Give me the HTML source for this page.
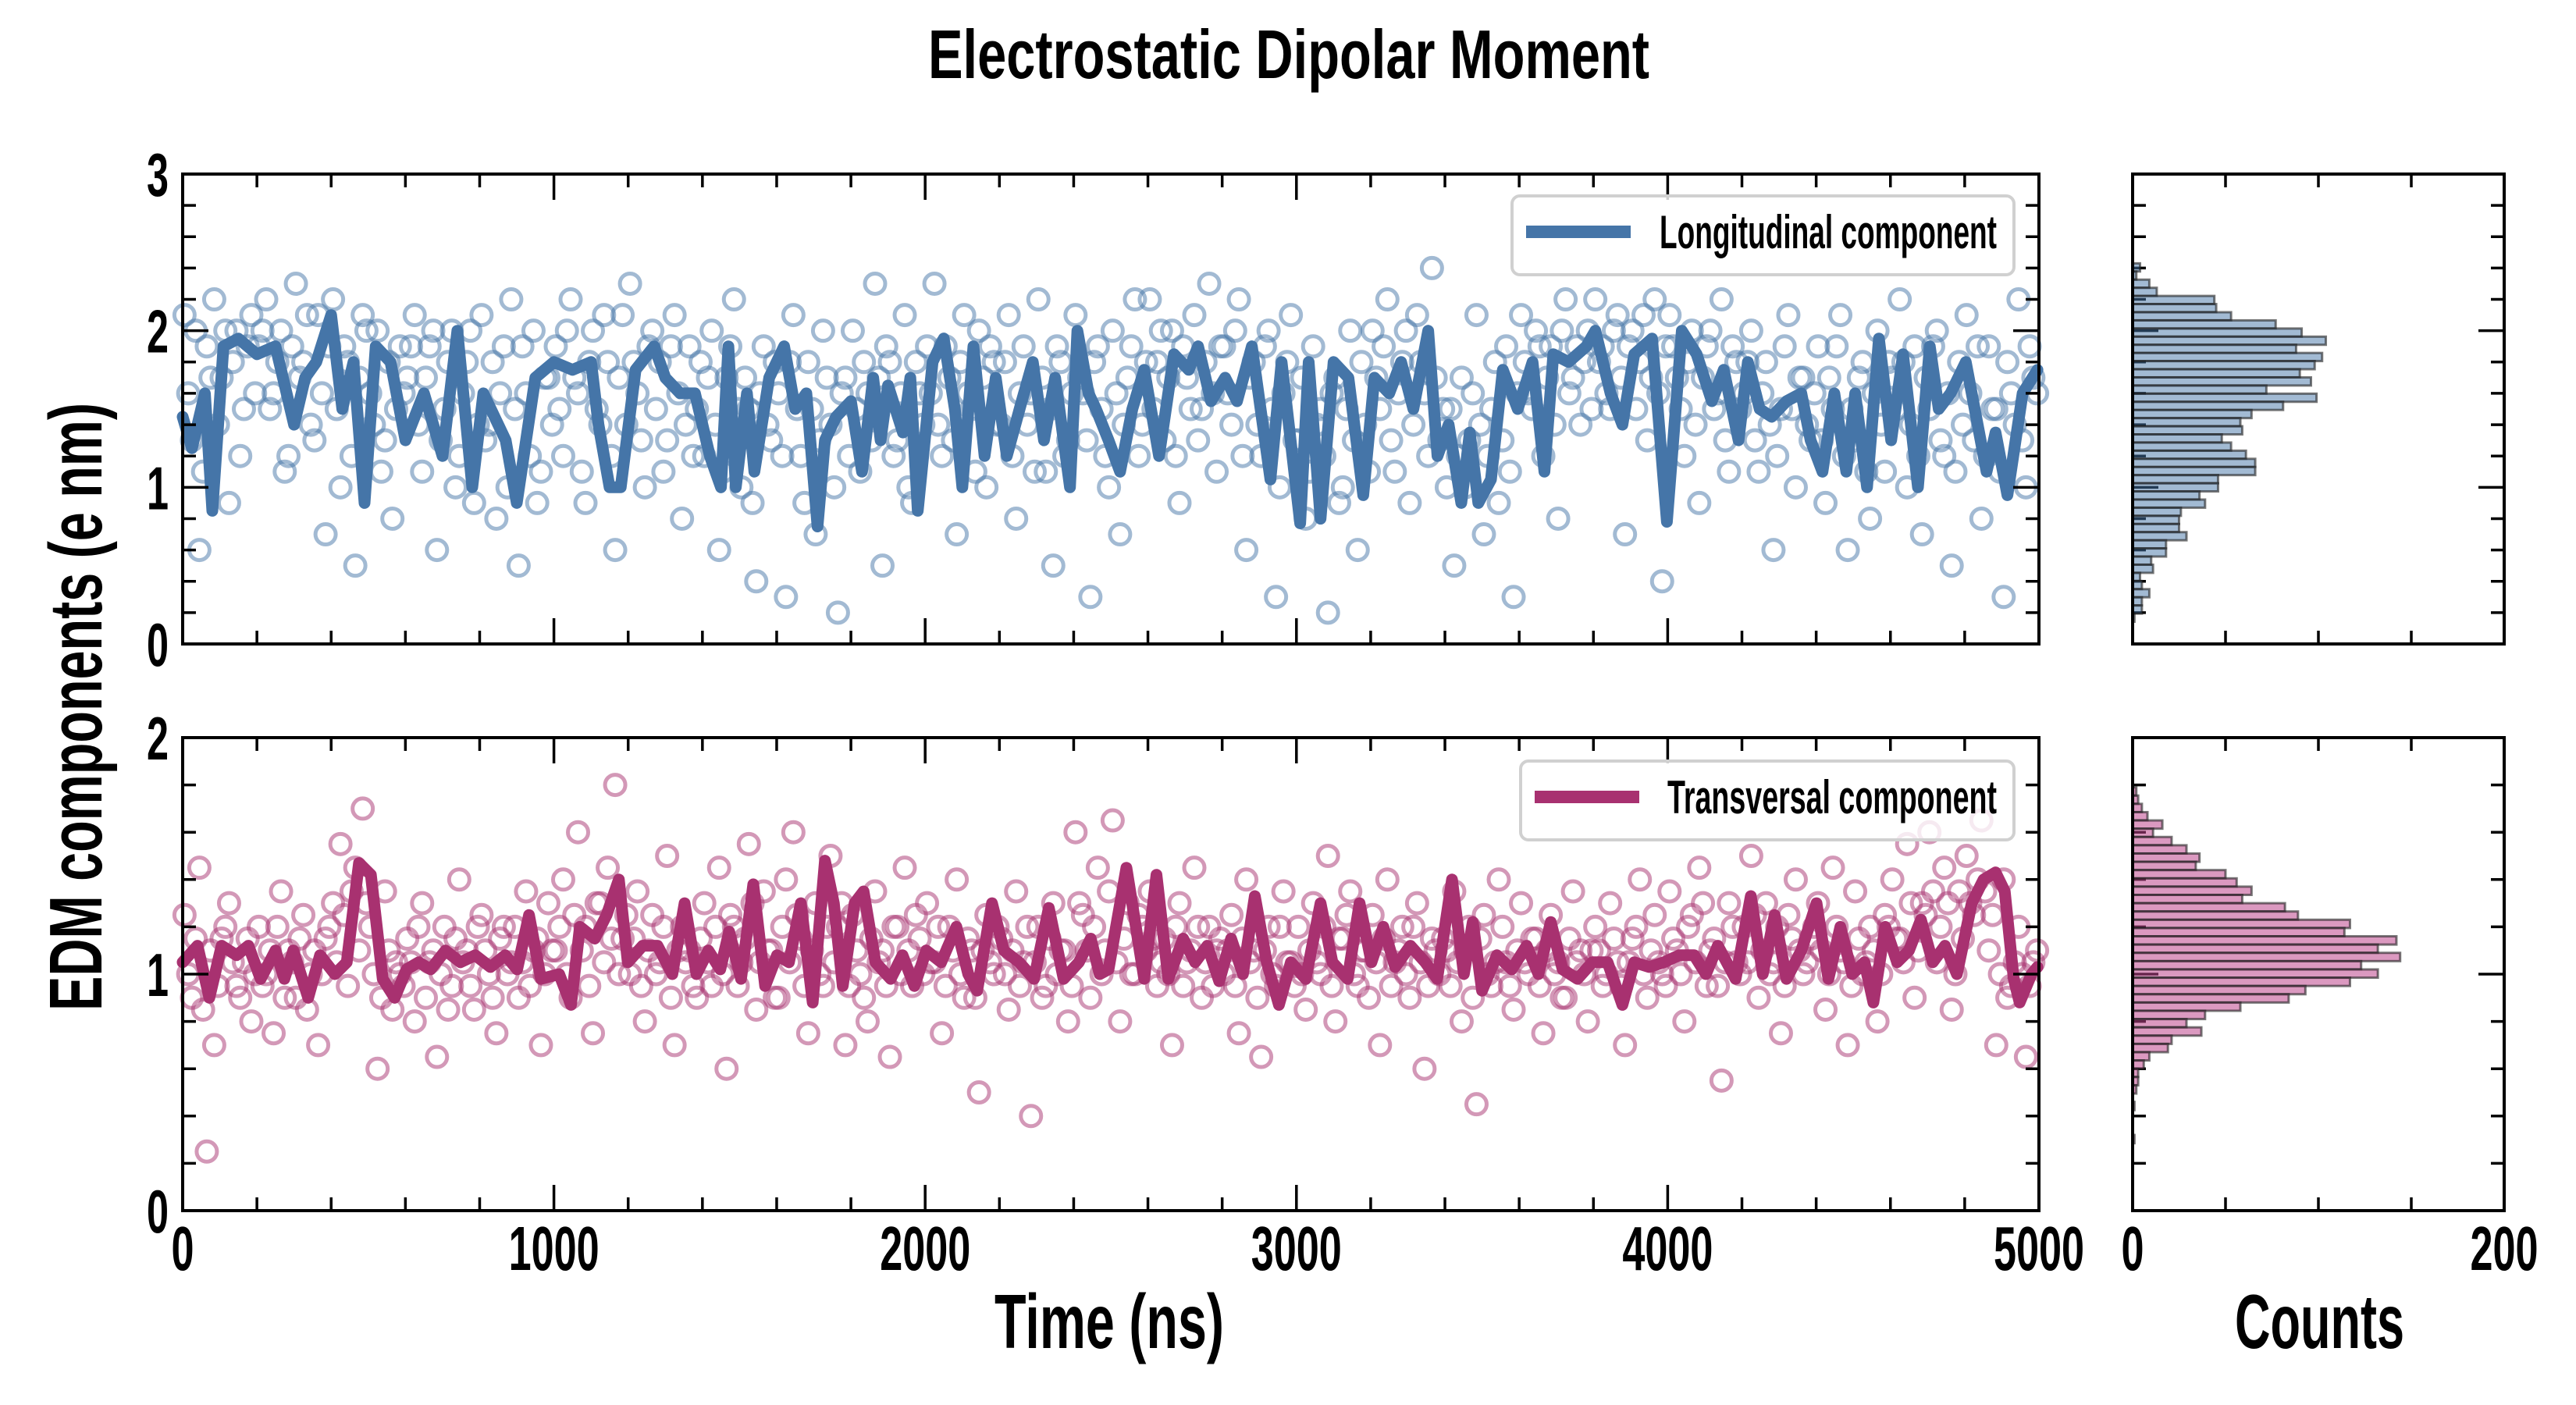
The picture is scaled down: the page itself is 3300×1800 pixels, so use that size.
<!DOCTYPE html>
<html><head><meta charset="utf-8"><style>
html,body{margin:0;padding:0;background:#fff;}
svg{display:block;}
text{font-family:"Liberation Sans",sans-serif;font-weight:bold;fill:#000;}
</style></head><body>
<svg id="chart" width="3300" height="1800" viewBox="0 0 3300 1800" xmlns="http://www.w3.org/2000/svg">
<rect width="3300" height="1800" fill="#fff"/>
<text x="1189" y="100" font-size="88" textLength="924" lengthAdjust="spacingAndGlyphs">Electrostatic Dipolar Moment</text>
<text transform="translate(130,1295) rotate(-90)" x="0" y="0" font-size="96" textLength="779" lengthAdjust="spacingAndGlyphs">EDM components (e nm)</text>
<text x="1274" y="1727" font-size="98" textLength="294" lengthAdjust="spacingAndGlyphs">Time (ns)</text>
<text x="2863" y="1727" font-size="98" textLength="217" lengthAdjust="spacingAndGlyphs">Counts</text>
<g id="layer"></g>
</svg>
<script>
// ---- data ----
const lonLineT = [0,25,60,80,110,150,200,250,300,330,360,400,430,460,490,520,560,600,650,700,740,780,810,870,900,950,1000,1050,1100,1120,1150,1180,1220,1270,1300,1340,1380,1420,1450,1470,1490,1520,1540,1580,1620,1650,1680,1710,1730,1760,1800,1830,1860,1880,1900,1940,1960,1980,2020,2050,2080,2100,2130,2160,2190,2220,2260,2290,2320,2350,2390,2410,2440,2460,2494,2525,2558,2590,2630,2670,2710,2735,2770,2808,2840,2880,2930,2960,3010,3033,3065,3100,3140,3180,3210,3250,3282,3315,3355,3380,3410,3444,3467,3490,3524,3556,3596,3636,3668,3692,3733,3781,3805,3846,3878,3910,3958,3998,4038,4078,4119,4151,4191,4216,4248,4280,4320,4360,4385,4417,4449,4481,4505,4537,4569,4602,4634,4674,4706,4730,4762,4803,4859,4883,4915,4956,4996];
const lonLineV = [1.45,1.25,1.6,0.85,1.9,1.95,1.85,1.9,1.4,1.7,1.8,2.1,1.5,1.8,0.9,1.9,1.8,1.3,1.6,1.2,2.0,1.0,1.6,1.3,0.9,1.7,1.8,1.75,1.8,1.4,1.0,1.0,1.75,1.9,1.7,1.6,1.6,1.2,1.0,1.9,1.0,1.6,1.1,1.7,1.9,1.5,1.6,0.75,1.3,1.45,1.55,1.1,1.7,1.3,1.65,1.35,1.7,0.85,1.8,1.95,1.5,1.0,1.9,1.2,1.7,1.2,1.55,1.8,1.3,1.7,1.0,2.0,1.6,1.5,1.3,1.1,1.5,1.75,1.2,1.85,1.75,1.9,1.55,1.7,1.55,1.9,1.05,1.8,0.77,1.8,0.8,1.8,1.7,0.95,1.7,1.6,1.8,1.5,2.0,1.2,1.4,0.9,1.35,0.9,1.05,1.75,1.5,1.8,1.1,1.85,1.8,1.9,2.0,1.6,1.4,1.85,1.95,0.78,2.0,1.85,1.55,1.75,1.3,1.8,1.5,1.45,1.55,1.6,1.3,1.1,1.6,1.1,1.6,1.0,1.95,1.3,1.85,1.0,1.9,1.5,1.6,1.8,1.1,1.35,0.95,1.6,1.75];
const traLineT = [0,40,72,105,145,177,210,250,274,298,338,370,410,442,475,507,539,571,603,636,668,708,748,788,829,869,901,933,965,1014,1046,1070,1110,1142,1175,1199,1239,1279,1319,1352,1384,1416,1448,1472,1504,1537,1569,1601,1633,1665,1697,1730,1754,1778,1810,1834,1866,1907,1939,1971,2003,2043,2084,2116,2140,2180,2212,2253,2293,2333,2373,2414,2446,2470,2494,2542,2590,2623,2655,2695,2727,2760,2792,2824,2856,2888,2920,2953,2985,3025,3065,3097,3138,3170,3202,3234,3266,3307,3347,3379,3419,3451,3475,3500,3540,3580,3620,3652,3685,3717,3757,3797,3838,3878,3910,3950,3990,4031,4071,4103,4135,4183,4224,4256,4288,4320,4360,4401,4433,4465,4497,4530,4554,4586,4618,4650,4682,4714,4747,4779,4819,4851,4883,4908,4932,4948,4980,4996];
const traLineV = [1.05,1.12,0.9,1.12,1.08,1.12,0.98,1.1,0.98,1.1,0.9,1.08,1.0,1.05,1.47,1.42,0.98,0.9,1.02,1.05,1.02,1.1,1.05,1.08,1.03,1.08,1.02,1.25,0.98,1.0,0.87,1.2,1.15,1.25,1.4,1.05,1.12,1.12,1.0,1.3,1.0,1.1,1.02,1.18,0.98,1.38,0.95,1.08,1.05,1.3,0.88,1.48,1.3,0.95,1.3,1.35,1.05,0.98,1.08,0.95,1.1,1.05,1.2,1.0,0.93,1.3,1.1,1.05,0.98,1.28,0.98,1.05,1.15,1.0,1.02,1.45,0.98,1.42,0.98,1.15,1.05,1.12,0.97,1.15,1.0,1.33,1.05,0.87,1.05,0.98,1.3,1.05,0.98,1.3,1.05,1.2,1.03,1.12,1.05,0.98,1.4,1.0,1.22,0.93,1.08,1.02,1.12,1.0,1.22,1.02,0.98,1.05,1.05,0.87,1.05,1.03,1.05,1.08,1.08,1.0,1.12,0.98,1.33,1.0,1.25,0.98,1.1,1.3,0.98,1.2,1.0,1.05,0.88,1.2,1.05,1.1,1.23,1.05,1.12,1.0,1.3,1.4,1.43,1.35,0.98,0.88,1.0,1.03];
const scatterStepNs = 20;
const lonScatter = [2.1,1.3,0.6,1.9,2.2,1.7,0.9,2.0,1.5,2.1, 1.9,2.2,1.6,2.0,1.2,2.3,1.8,1.4,2.1,0.7, 2.2,1.0,1.8,0.5,2.1,1.6,2.0,1.3,0.8,1.9, 1.7,2.1,1.1,1.9,0.6,1.5,2.0,1.2,1.8,0.9, 2.1,1.4,0.8,1.9,2.2,0.5,1.6,2.0,1.1,1.7, 1.9,1.2,2.2,1.6,0.9,2.0,1.4,1.8,0.6,2.1, 2.3,1.6,1.0,2.0,1.8,1.3,2.1,0.8,1.9,1.5, 1.2,2.0,0.6,1.7,2.2,1.0,1.5,0.4,1.9,1.3, 1.6,0.3,2.1,1.2,1.8,0.7,2.0,1.4,0.2,1.7, 2.0,1.1,1.6,2.3,0.5,1.8,1.3,2.1,0.9,1.6, 1.9,2.3,1.2,1.7,0.7,2.1,1.5,2.0,1.0,1.8, 1.4,2.1,0.8,1.9,1.6,2.2,1.1,0.5,1.8,1.3, 2.1,1.6,0.3,1.9,1.2,2.0,0.7,1.7,2.2,1.4, 2.2,1.8,1.3,2.0,0.9,1.7,2.1,1.5,2.3,1.1, 1.9,1.4,2.2,0.6,1.8,1.2,2.0,0.3,1.6,2.1, 1.3,0.8,1.9,1.5,0.2,1.7,1.0,2.0,0.6,1.4, 2.0,1.5,2.2,1.1,1.8,0.9,2.1,1.6,2.4,1.3, 1.0,0.5,1.7,1.3,2.1,0.7,1.5,0.9,1.9,0.3, 2.1,1.6,2.0,1.2,1.9,0.8,2.2,1.7,1.4,2.0, 2.2,1.9,1.5,2.1,0.7,2.0,1.8,1.3,2.2,0.4, 2.1,1.7,1.2,2.0,0.9,1.9,1.5,2.2,1.1,1.8, 1.6,2.0,1.1,1.8,0.6,1.5,2.1,1.0,1.7,1.3, 1.9,0.9,1.5,2.1,0.6,1.3,1.8,0.8,2.0,1.1, 1.7,2.2,1.0,1.9,0.7,1.5,2.0,1.2,0.5,1.8, 2.1,1.3,0.8,1.9,1.5,0.3,1.6,2.2,1.0,1.7];
const lonScatter2 = [1.6,2.0,1.1,1.7,1.4,2.0,1.8,1.2,1.9,1.6, 2.0,1.5,1.8,1.1,1.9,1.7,2.1,1.3,1.6,1.9, 1.5,1.9,1.2,1.7,2.0,1.4,1.1,1.8,1.5,1.6, 1.9,1.4,1.7,2.0,1.3,1.8,1.0,1.6,2.0,1.4, 1.3,1.8,1.6,1.0,1.5,1.9,1.2,0.9,1.7,1.4, 1.5,2.0,1.7,1.1,1.8,1.5,2.1,1.2,1.7,1.4, 1.8,1.3,1.9,1.5,1.1,1.9,1.6,1.4,1.2,1.8, 1.7,1.4,1.1,1.9,1.5,1.7,0.9,1.6,1.4,1.8, 1.2,1.8,1.5,0.9,1.5,1.3,1.7,1.0,1.6,1.2, 1.5,1.8,1.3,1.7,1.9,1.2,1.6,1.0,1.8,1.4, 1.6,1.4,1.9,1.3,1.8,1.6,1.1,1.7,1.9,1.4, 1.8,1.2,1.6,1.4,1.1,1.7,1.5,1.9,1.2,1.6, 1.7,1.3,1.8,1.5,1.0,1.6,1.4,1.9,1.2,1.8, 1.5,2.0,1.7,1.2,1.9,1.5,1.3,1.8,1.6,1.9, 1.6,2.0,1.2,1.7,1.4,1.9,1.5,1.0,1.8,1.3, 1.7,1.1,1.4,1.2,1.6,0.9,1.5,1.3,1.8,1.1, 1.7,1.9,1.3,1.6,2.0,1.4,1.8,1.2,1.7,1.5, 1.5,1.2,1.0,1.6,1.4,1.2,1.8,1.3,1.1,1.6, 1.8,1.5,1.9,1.7,1.4,2.0,1.6,1.9,1.8,1.5, 1.8,1.6,2.0,1.7,1.9,1.5,2.1,1.7,1.6,1.9, 1.9,1.5,1.8,1.4,1.7,2.0,1.6,1.3,1.9,1.5, 1.8,1.3,1.6,1.4,1.2,1.9,1.5,1.7,1.4,1.6, 1.3,1.7,1.9,1.2,1.5,1.7,1.1,1.6,1.4,1.8, 1.5,1.8,1.4,1.2,1.7,1.9,1.3,1.6,1.1,1.4, 1.6,1.9,1.2,1.5,1.1,1.8,1.4,1.3,1.9,1.6];
const traScatter = [1.25,0.9,1.45,0.25,0.7,1.15,1.3,0.95,1.05,0.8, 1.2,1.0,0.75,1.35,1.1,0.9,1.25,1.0,0.7,1.15, 1.3,1.55,0.95,1.45,1.7,1.2,0.6,1.35,0.85,1.0, 1.15,0.8,1.3,1.05,0.65,1.2,0.95,1.4,1.1,0.85, 1.25,1.0,0.75,1.2,1.05,0.9,1.35,1.1,0.7,1.3, 1.1,1.4,0.9,1.6,1.2,0.75,1.3,1.45,1.8,1.15, 1.0,1.35,0.8,1.25,1.05,1.5,0.7,1.2,1.1,0.9, 1.3,0.95,1.45,0.6,1.2,1.05,1.55,0.85,1.35,1.1, 0.9,1.4,1.6,1.15,0.75,1.3,0.95,1.5,1.2,0.7, 1.25,1.0,0.8,1.35,1.1,0.65,1.2,1.45,0.95,1.15, 1.3,1.05,0.75,1.2,1.4,0.9,1.1,0.5,1.25,1.0, 1.15,0.85,1.35,1.05,0.4,1.2,0.95,1.3,1.1,0.8, 1.6,1.25,0.9,1.45,1.1,1.65,0.8,1.3,1.0,1.2, 1.35,0.95,1.15,0.7,1.3,1.05,1.45,0.9,1.2,1.1, 1.0,1.25,0.75,1.4,1.1,0.65,1.2,0.95,1.35,1.05, 1.2,0.85,1.3,1.0,1.5,0.8,1.15,1.35,0.95,1.1, 1.25,0.7,1.4,1.05,1.2,0.9,1.3,0.6,1.15,1.0, 1.1,1.35,0.8,1.2,0.45,1.25,0.95,1.4,1.05,0.85, 1.3,1.0,1.15,0.75,1.25,1.05,0.9,1.35,1.1,0.8, 1.2,0.95,1.3,1.05,0.7,1.15,1.4,0.9,1.25,1.0, 1.35,1.1,0.8,1.25,1.45,0.95,1.15,0.55,1.3,1.05, 1.2,1.5,0.9,1.3,1.05,0.75,1.25,1.4,1.0,1.15, 1.3,0.85,1.45,1.1,0.7,1.35,1.0,1.2,0.8,1.25, 1.4,1.15,1.55,0.9,1.3,1.6,1.05,1.45,0.85,1.35, 1.5,1.25,1.65,1.1,0.7,1.4,0.95,1.2,0.65,1.05];
const traScatter2 = [1.0,1.15,0.85,1.1,0.95,1.2,1.05,0.9,1.15,1.0, 0.95,1.1,1.2,0.9,1.05,1.15,0.85,1.1,1.0,1.2, 1.05,1.25,1.35,1.1,1.3,1.0,0.9,1.1,1.05,0.95, 1.05,1.2,0.9,1.1,1.0,0.85,1.15,1.05,0.95,1.2, 1.1,0.9,1.15,1.0,1.2,1.05,0.95,1.15,1.0,1.1, 1.2,1.0,1.25,1.1,0.95,1.3,1.05,1.15,1.0,1.25, 1.15,0.95,1.1,1.0,1.2,0.9,1.1,1.05,0.95,1.15, 1.05,1.2,1.0,1.25,0.95,1.15,1.3,1.05,1.1,0.9, 1.2,1.05,1.25,0.95,1.1,1.0,1.2,1.05,1.3,0.95, 1.1,0.9,1.15,1.05,0.95,1.2,1.0,1.1,1.25,1.0, 1.05,1.2,0.95,1.1,1.0,1.15,0.9,1.1,1.05,1.2, 1.0,1.1,0.95,1.2,1.05,0.9,1.15,1.0,1.1,0.95, 1.3,1.1,1.2,1.0,1.35,1.05,1.15,1.0,1.25,1.1, 1.15,1.05,1.0,1.2,0.95,1.1,1.2,1.05,0.95,1.15, 1.1,0.95,1.15,1.05,0.9,1.1,1.0,1.2,1.05,0.95, 1.0,1.1,1.05,1.2,0.95,1.15,1.25,1.0,1.1,0.9, 1.05,1.15,0.95,1.1,1.0,1.2,1.05,0.95,1.1,1.15, 0.95,1.05,1.1,0.9,1.15,1.0,1.05,1.2,0.95,1.1, 1.05,1.15,0.95,1.1,1.0,0.9,1.15,1.05,1.0,1.1, 1.1,1.0,1.15,0.95,1.05,1.2,1.0,1.1,1.05,0.95, 1.15,1.0,1.2,1.05,1.3,1.1,0.95,1.05,1.2,1.0, 1.05,1.25,1.1,1.0,1.2,0.95,1.15,1.1,1.05,1.2, 1.1,1.0,1.2,1.05,0.95,1.15,1.05,1.1,1.0,1.2, 1.15,1.05,1.3,1.1,1.25,1.35,1.2,1.3,1.0,1.15, 1.3,1.4,1.35,1.25,1.0,0.9,1.05,1.0,0.95,1.1];
const lonHistTop = 2.43, lonHistBin = 0.052;
const lonHistCounts = [4,2,9,13,44,45,53,77,91,104,88,102,98,90,96,72,99,81,64,58,59,48,53,61,66,66,46,46,36,39,26,25,25,29,18,18,10,11,4,5,9,5,5,1];
const traHistTop = 1.79, traHistBin = 0.035;
const traHistCounts = [2,3,5,8,16,11,21,29,36,34,50,56,64,59,82,89,117,114,142,132,144,123,132,117,93,84,58,39,29,37,21,19,9,6,3,3,2,0,1,0,0,0,1];
const timeTicks = ["0","1000","2000","3000","4000","5000"];
const lonYTicks = ["0","1","2","3"];
const traYTicks = ["0","1","2"];
const countTicks = ["0","200"];

// ---- layout ----
const NS = "http://www.w3.org/2000/svg";
const layer = document.getElementById("layer");
const X0 = 234, X1 = 2612, HX0 = 2732, HX1 = 3208;
const panels = {
  lon: {y0: 223, y1: 825, max: 3, color: "#4575a8", sc: "rgba(69,117,168,0.5)", hf: "rgba(69,117,168,0.5)"},
  tra: {y0: 945, y1: 1551, max: 2, color: "#a83170", sc: "rgba(168,49,112,0.5)", hf: "rgba(190,70,140,0.55)"}
};
function xT(t){ return X0 + t/5000*(X1-X0); }
function xC(c){ return HX0 + c/200*(HX1-HX0); }
function yV(p,v){ return p.y1 - v/p.max*(p.y1-p.y0); }
function mk(tag, attrs, parent){
  const e = document.createElementNS(NS, tag);
  for (const k in attrs) e.setAttribute(k, attrs[k]);
  (parent||layer).appendChild(e);
  return e;
}

function drawPanel(key, lineT, lineV, scat, scat2, histTop, histBin, counts, yTicks, legendText){
  const p = panels[key];
  const g = mk("g", {});
  
  
  const sg = mk("g", {fill:"none", stroke:p.sc, "stroke-width":5}, g);
  
  
  scat.forEach((v,i)=>{
    const c = mk("circle", {cx:xT(i*scatterStepNs+5), cy:yV(p,v), r:13}, sg);
    
    
  });
  scat2.forEach((v,i)=>{
    const c = mk("circle", {cx:xT(i*scatterStepNs+15), cy:yV(p,v), r:13}, sg);
    
    
  });
  const pts = lineT.map((t,i)=>xT(t).toFixed(1)+","+yV(p,lineV[i]).toFixed(1)).join(" ");
  const pl = mk("polyline", {points:pts, fill:"none", stroke:p.color, "stroke-width":15, "stroke-linejoin":"round", "stroke-linecap":"round"}, g);
  
  
  const fr = mk("rect", {x:X0, y:p.y0, width:X1-X0, height:p.y1-p.y0, fill:"none", stroke:"#000", "stroke-width":4}, g);
  
  
  let d = "";
  for (let t=0; t<=5000; t+=200){
    const L = (t%1000===0)?33:17, x = xT(t);
    d += `M${x},${p.y1}v${-L}M${x},${p.y0}v${L}`;
  }
  const nMinor = Math.round(p.max/0.2);
  for (let i=0;i<=nMinor;i++){
    const v = i*0.2, y = yV(p,v), L = (i%5===0)?33:17;
    d += `M${X0},${y}h${L}M${X1},${y}h${-L}`;
    d += `M${HX0},${y}h${L}M${HX1},${y}h${-L}`;
  }
  for (let c=50;c<200;c+=50){
    const x = xC(c);
    d += `M${x},${p.y1}v-17M${x},${p.y0}v17`;
  }
  const tk = mk("path", {d:d, stroke:"#000", "stroke-width":3.5, fill:"none"}, g);
  
  
  yTicks.forEach((s,i)=>{
    const tx = mk("text", {x:216, y:yV(p,i)+28, "font-size":78, "text-anchor":"end", textLength:28*s.length, lengthAdjust:"spacingAndGlyphs"}, g);
    tx.textContent = s;
    
    
  });
  const hg = mk("g", {}, g);
  
  
  counts.forEach((c,i)=>{
    if (c<=0) return;
    const yTop = yV(p, histTop - i*histBin), yBot = yV(p, histTop - (i+1)*histBin);
    const r = mk("rect", {x:HX0, y:yTop, width:xC(c)-HX0, height:yBot-yTop, fill:p.hf, stroke:"rgba(30,30,30,0.6)", "stroke-width":3}, hg);
    
    
  });
  const hf = mk("rect", {x:HX0, y:p.y0, width:HX1-HX0, height:p.y1-p.y0, fill:"none", stroke:"#000", "stroke-width":4}, g);
  
  
  const lg = mk("g", {}, g);
  
  
  const ly = key==="lon" ? 251 : 975;
  const lx = key==="lon" ? 1937 : 1948;
  mk("rect", {x:lx, y:ly, width:2580-lx, height:101, rx:10, fill:"rgba(255,255,255,0.8)", stroke:"#d0d0d0", "stroke-width":4}, lg);
  const ls = mk("line", {x1:lx+18, x2:lx+152, y1:ly+46, y2:ly+46, stroke:p.color, "stroke-width":16}, lg);
  
  
  const tx0 = key==="lon" ? 2126 : 2136;
  const lt = mk("text", {x:tx0, y:ly+67, "font-size":60, textLength:2558-tx0, lengthAdjust:"spacingAndGlyphs"}, lg);
  lt.textContent = legendText;
  
  
}

drawPanel("lon", lonLineT, lonLineV, lonScatter, lonScatter2, lonHistTop, lonHistBin, lonHistCounts, lonYTicks, "Longitudinal component");
drawPanel("tra", traLineT, traLineV, traScatter, traScatter2, traHistTop, traHistBin, traHistCounts, traYTicks, "Transversal component");

timeTicks.forEach(s=>{
  const t = mk("text", {x:xT(parseFloat(s)), y:1627, "font-size":80, "text-anchor":"middle", textLength:29*s.length, lengthAdjust:"spacingAndGlyphs"});
  t.textContent = s;
  
  
});
countTicks.forEach(s=>{
  const t = mk("text", {x:xC(parseFloat(s)), y:1627, "font-size":80, "text-anchor":"middle", textLength:29*s.length, lengthAdjust:"spacingAndGlyphs"});
  t.textContent = s;
  
  
});
</script>
</body></html>
